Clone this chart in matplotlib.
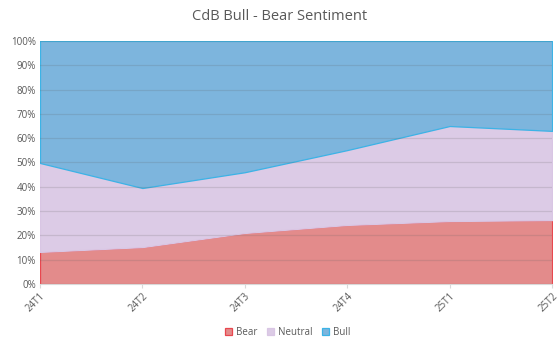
import numpy as np
import matplotlib.pyplot as plt
from matplotlib.ticker import PercentFormatter

plt.rcParams['font.family'] = ['Open Sans', 'DejaVu Sans']

quarters = ['24T1', '24T2', '24T3', '24T4', '25T1', '25T2']
bear = [13.2, 15.2, 21.0, 24.3, 25.9, 26.3]
neutral = [36.6, 24.3, 25.0, 30.8, 39.1, 36.7]
bull = [50.2, 60.5, 54.0, 44.9, 35.0, 37.0]

fills = ['#e38b8b', '#dccbe6', '#7db5dd']
edges = ['#e8474f', '#d9c6e4', '#3cb3e6']
text_col = '#595959'

fig = plt.figure(figsize=(5.59, 3.41), dpi=100)
ax = fig.add_axes([0.0716, 0.167, 0.916, 0.713])

x = np.arange(len(quarters))
polys = ax.stackplot(x, bear, neutral, bull, labels=['Bear', 'Neutral', 'Bull'],
                     colors=fills)
for p, e in zip(polys, edges):
    p.set_edgecolor(e)
    p.set_linewidth(0.9)

ax.set_xlim(0, len(quarters) - 1)
ax.set_ylim(0, 100)
ax.set_yticks(np.arange(0, 101, 10))
ax.yaxis.set_major_formatter(PercentFormatter(decimals=0))
ax.set_xticks(x)
ax.set_xticklabels(quarters, rotation=45, ha='right', rotation_mode='anchor')
ax.tick_params(axis='both', labelsize=7, colors=text_col, length=0, pad=3)
ax.tick_params(axis='x', length=3, color='#d9d9d9', pad=2)

ax.grid(axis='y', color='#606060', alpha=0.18, linewidth=0.9)
ax.set_axisbelow(False)
for s in ['top', 'right', 'left']:
    ax.spines[s].set_visible(False)
ax.spines['bottom'].set_color('#d9d9d9')

fig.suptitle('CdB Bull - Bear Sentiment', y=0.975, fontsize=10.5, color=text_col)

handles, labels = ax.get_legend_handles_labels()
for h, e in zip(handles, edges):
    h.set_edgecolor(e)
leg = fig.legend(handles, labels, loc='center', bbox_to_anchor=(0.515, 0.025),
                 ncol=3, frameon=False, fontsize=7, handlelength=0.7,
                 handleheight=0.7, handletextpad=0.4, columnspacing=1.0,
                 labelcolor=text_col)

fig.savefig('out.png', dpi=100)
